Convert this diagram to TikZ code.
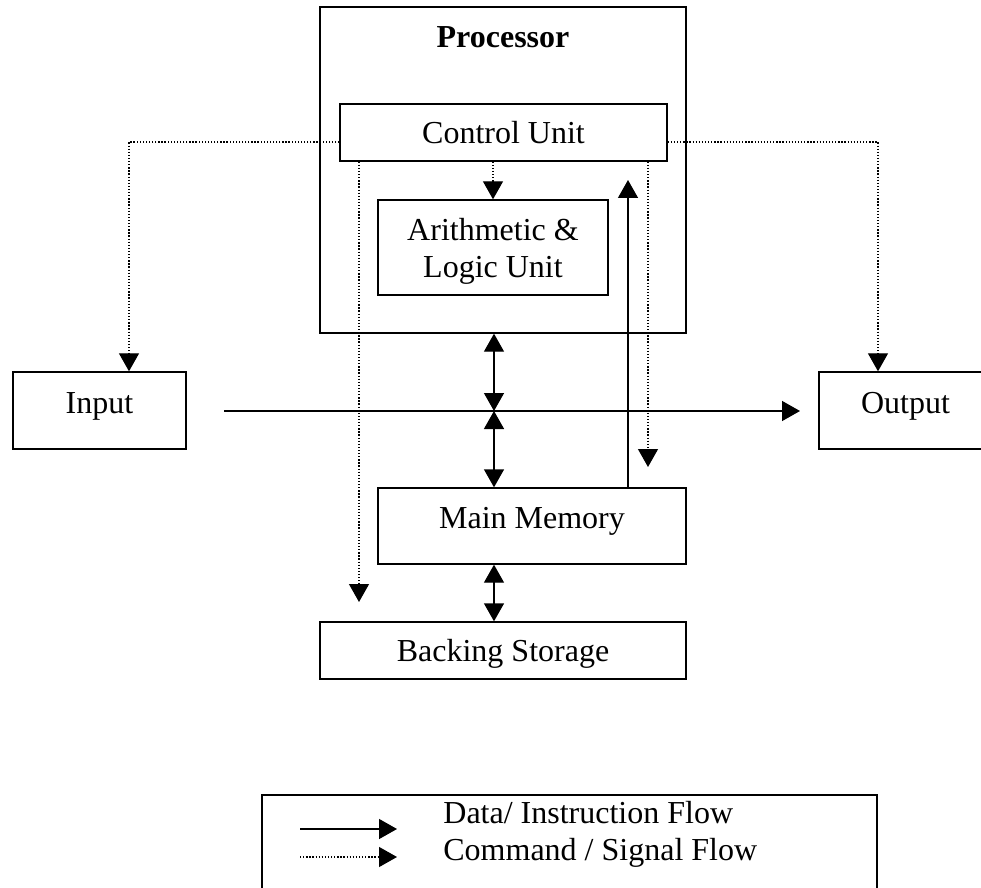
\documentclass[tikz,border=0pt]{standalone}
\usepackage{fontspec}
\setmainfont{Liberation Serif}
\usetikzlibrary{arrows.meta,calc}
\begin{document}
\begin{tikzpicture}[x=0.5pt,y=-0.5pt,
 box/.style={draw,line width=0.7pt,inner sep=0pt,font=\fontsize{16}{18.5}\selectfont,align=center,text depth=0pt},
 raised/.style={text height=11pt,text depth=8.5pt},
 data/.style={line width=0.7pt,-{Triangle[length=9pt,width=10pt]}},
 both/.style={line width=0.7pt,{Triangle[length=9pt,width=10pt]}-{Triangle[length=9pt,width=10pt]}},
 sig/.style={line width=0.65pt,dash pattern=on 0.65pt off 0.9pt,-{Triangle[length=9pt,width=10pt]}},
 lbl/.style={font=\fontsize{16}{18.5}\selectfont}]
\useasboundingbox (0,0) rectangle (981,888);
% boxes
\node[box,minimum width=183pt,minimum height=163pt] (proc) at (503,170) {};
\node[font=\fontsize{16}{18.5}\selectfont\bfseries,anchor=base,inner sep=0pt] (ptitle) at (503,48) {Processor};
\node[box,minimum width=163.5pt,minimum height=28.5pt] (cu) at (503.5,132.5) {Control Unit};
\node[box,minimum width=115pt,minimum height=47.5pt] (alu) at (493,247.5) {Arithmetic \&\\Logic Unit};
\node[box,raised,minimum width=86.5pt,minimum height=38.5pt] (in) at (99.5,410.5) {Input};
\node[box,raised,minimum width=86.5pt,minimum height=38.5pt] (out) at (905.5,410.5) {Output};
\node[box,raised,minimum width=154pt,minimum height=38pt] (mm) at (532,526) {Main Memory};
\node[box,minimum width=183pt,minimum height=28.5pt] (bs) at (503,650.5) {Backing Storage};
% signal connectors
\draw[sig] ($(cu.west)+(0,9.5)$) -| ($(in.north)+(29.5,0)$);
\draw[sig] ($(cu.east)+(0,9.5)$) -| ($(out.north)+(-27.5,0)$);
\draw[sig] (alu.north |- cu.south) -- (alu.north);
\coordinate (lsig) at (359,602);
\draw[sig] (lsig |- cu.south) -- (lsig);
\coordinate (rsig) at (648,467);
\draw[sig] (rsig |- cu.south) -- (rsig);
% data connectors
\coordinate (mmup) at (628,180);
\draw[data] (mmup |- mm.north) -- (mmup);
\coordinate (hstart) at (224,411);
\coordinate (hend) at (800,411);
\coordinate (jn) at (494,411);
\draw[data] (hstart) -- (hend);
\draw[both] (jn |- proc.south) -- (jn);
\draw[both] (jn) -- (jn |- mm.north);
\draw[both] (jn |- mm.south) -- (jn |- bs.north);
% legend
\node[draw,line width=0.7pt,minimum width=307.5pt,minimum height=52.5pt,inner sep=0pt] (legend) at (569.5,847.5) {};
\coordinate (l1a) at (300,829);
\coordinate (l1b) at (397,829);
\coordinate (l2a) at (300,857);
\coordinate (l2b) at (397,857);
\draw[data] (l1a) -- (l1b);
\draw[sig] (l2a) -- (l2b);
\node[lbl,anchor=base west,inner sep=0pt] (t1) at (443,823) {Data/ Instruction Flow};
\node[lbl,anchor=base west,inner sep=0pt] (t2) at (443,860) {Command / Signal Flow};
\end{tikzpicture}
\end{document}
